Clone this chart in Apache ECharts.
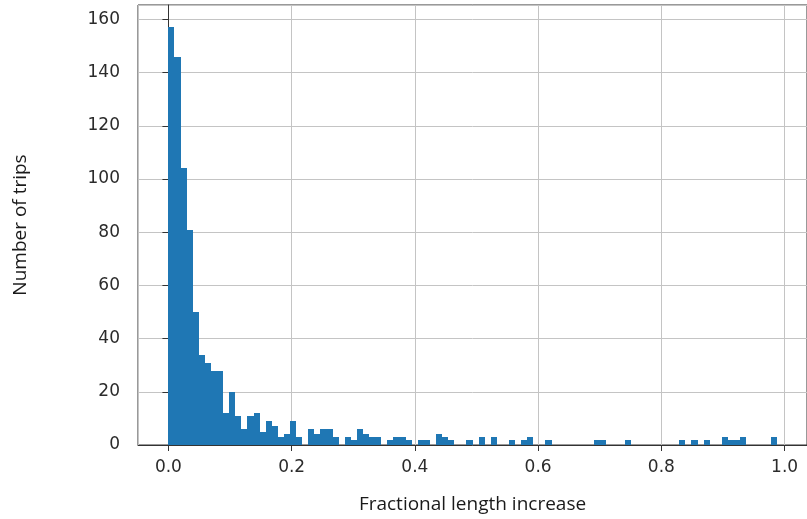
<!DOCTYPE html>
<html>
<head>
<meta charset="utf-8">
<script src="https://cdn.jsdelivr.net/npm/echarts@6/dist/echarts.min.js"></script>
<style>
  html, body { margin: 0; padding: 0; background: #fff; }
  #chart { width: 807px; height: 519px; }
</style>
</head>
<body>
<div id="chart"></div>
<script>
// histogram bins: 100 equal bins starting at 0
const binStart = 0
const binWidth = 0.00987
const counts = [
  157, 146, 104, 81, 50, 34, 31, 28, 28, 12,
  20, 11, 6, 11, 12, 5, 9, 7, 3, 4,
  9, 3, 0, 6, 4, 6, 6, 3, 0, 3,
  2, 6, 4, 3, 3, 0, 2, 3, 3, 2,
  0, 2, 2, 0, 4, 3, 2, 0, 0, 2,
  0, 3, 0, 3, 0, 0, 2, 0, 2, 3,
  0, 0, 2, 0, 0, 0, 0, 0, 0, 0,
  2, 2, 0, 0, 0, 2, 0, 0, 0, 0,
  0, 0, 0, 0, 2, 0, 2, 0, 2, 0,
  0, 3, 2, 2, 3, 0, 0, 0, 0, 3
]
const yTicks = [0, 20, 40, 60, 80, 100, 120, 140, 160]

const bins = counts.map(function (c, i) {
  return [binStart + i * binWidth, binStart + (i + 1) * binWidth, c]
})

// matplotlib-like 5% margins on x
const xLo = binStart
const xHi = binStart + counts.length * binWidth
const xPad = (xHi - xLo) * 0.05

const tickFont = { fontFamily: 'DejaVu Sans', fontSize: 17, color: '#2b2b2b' }
const nameFont = { fontFamily: 'Open Sans', fontSize: 19, color: '#1a1a1a' }

let chart = echarts.init(document.getElementById('chart'), null, { renderer: 'canvas' })
chart.setOption({
  backgroundColor: '#fff',
  animation: false,
  grid: {
    left: 138,
    top: 5,
    width: 673,
    height: 440,
    show: true,
    borderColor: '#333',
    borderWidth: 1,
    backgroundColor: 'transparent'
  },
  xAxis: {
    type: 'value',
    min: xLo - xPad,
    max: xHi + xPad,
    splitNumber: 5,
    name: 'Fractional length increase',
    nameLocation: 'middle',
    nameGap: 50,
    nameTextStyle: nameFont,
    axisLine: { show: true, onZero: false, lineStyle: { color: '#333', width: 1 } },
    axisTick: { show: true, length: 6, lineStyle: { color: '#333' } },
    axisLabel: Object.assign({
      margin: 14,
      showMinLabel: false,
      showMaxLabel: false,
      formatter: function (v) { return v.toFixed(1) }
    }, tickFont),
    splitLine: { show: true, lineStyle: { color: '#c4c4c4', width: 1 } }
  },
  yAxis: {
    type: 'value',
    min: yTicks[0],
    max: 165.4,
    interval: yTicks[1] - yTicks[0],
    name: 'Number of trips',
    nameLocation: 'middle',
    nameGap: 108,
    nameTextStyle: nameFont,
    axisLine: { show: true, lineStyle: { color: '#333', width: 1 } },
    axisTick: { show: true, length: 6, lineStyle: { color: '#333' } },
    axisLabel: Object.assign({
      margin: 18,
      showMaxLabel: false
    }, tickFont),
    splitLine: { show: true, lineStyle: { color: '#c4c4c4', width: 1 } }
  },
  series: [{
    type: 'custom',
    data: bins,
    encode: { x: [0, 1], y: 2 },
    renderItem: function (params, api) {
      if (api.value(2) <= 0) return null
      const p0 = api.coord([api.value(0), 0])
      const p1 = api.coord([api.value(1), api.value(2)])
      // snap to whole pixels so neighbouring bins join without seams
      const x0 = Math.round(p0[0])
      const x1 = Math.round(p1[0])
      const yb = Math.round(p0[1])
      const yt = Math.round(p1[1])
      return {
        type: 'rect',
        shape: { x: x0, y: yt, width: x1 - x0, height: yb - yt },
        style: { fill: '#1f77b4' }
      }
    }
  }]
})
</script>
</body>
</html>
